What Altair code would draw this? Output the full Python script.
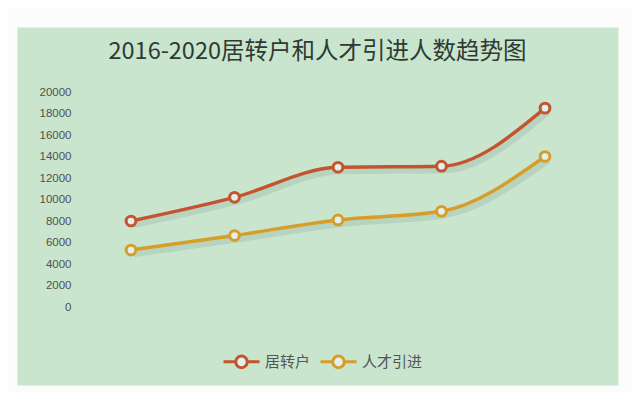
import altair as alt
import pandas as pd

years = ["2016", "2017", "2018", "2019", "2020"]
series_names = ["居转户", "人才引进"]
hukou = [8000, 10200, 13000, 13100, 18500]
talent = [5300, 6650, 8100, 8900, 14000]
y_ticks = [0, 2000, 4000, 6000, 8000, 10000, 12000, 14000, 16000, 18000, 20000]
title_text = "2016-2020居转户和人才引进人数趋势图"

colors = ["#c4542f", "#d69e28"]

rows = []
for name, vals in zip(series_names, [hukou, talent]):
    for yr, v in zip(years, vals):
        rows.append({"year": yr, "series": name, "value": v})
df = pd.DataFrame(rows)

W, H = 601, 358
x_main = alt.Scale(type="point", domain=years, range=[114, 528], padding=0)
y_main = alt.Scale(domain=[0, 20000], range=[280, 65], nice=False, zero=False)
x_sh = alt.Scale(type="point", domain=years, range=[117, 531], padding=0)
y_sh = alt.Scale(domain=[0, 20000], range=[284, 69], nice=False, zero=False)

stroke_scale = alt.Scale(domain=series_names, range=colors)
legend_path = "M-1,0L-0.32,0M0.32,0L1,0M-0.32,0A0.32,0.32,0,1,1,0.32,0A0.32,0.32,0,1,1,-0.32,0Z"

base = alt.Chart(df)

shadow = base.mark_line(interpolate="monotone", strokeWidth=6, opacity=0.16, color="#5f7f78").encode(
    x=alt.X("year:O", scale=x_sh, axis=None),
    y=alt.Y("value:Q", scale=y_sh, axis=None),
    detail="series:N",
)

lines = base.mark_line(interpolate="monotone", strokeWidth=3.5).encode(
    x=alt.X("year:O", scale=x_main, axis=None),
    y=alt.Y(
        "value:Q",
        scale=y_main,
        axis=alt.Axis(
            values=y_ticks,
            format="d",
            orient="left",
            offset=-56,
            labelPadding=2,
            ticks=False,
            domain=False,
            grid=False,
            title=None,
            labelFont="Liberation Sans",
            labelFontSize=11.5,
            labelColor="#4f524f",
        ),
    ),
    stroke=alt.Stroke(
        "series:N",
        scale=stroke_scale,
        legend=alt.Legend(
            title=None,
            orient="none",
            legendX=205,
            legendY=315,
            direction="horizontal",
            symbolType=legend_path,
            symbolSize=1296,
            symbolStrokeWidth=3,
            symbolFillColor="#e2efec",
            labelFont="Noto Sans CJK SC",
            labelFontSize=15,
            labelColor="#555555",
            labelOffset=4,
            columnPadding=3,
        ),
    ),
)

points = base.mark_point(filled=True, size=95, strokeWidth=3, fill="#e2efec", opacity=1).encode(
    x=alt.X("year:O", scale=x_main, axis=None),
    y=alt.Y("value:Q", scale=y_main, axis=None),
    stroke=alt.Stroke("series:N", scale=stroke_scale),
)

chart = (
    alt.layer(shadow, lines, points)
    .resolve_scale(x="independent", y="independent")
    .properties(
        width=W,
        height=H,
        title=alt.TitleParams(
            title_text,
            font="Noto Sans CJK SC",
            fontSize=23.5,
            fontWeight="normal",
            color="#2f3a32",
            anchor="middle",
            baseline="alphabetic",
            offset=-55,
        ),
        autosize=alt.AutoSizeParams(type="none"),
        padding={"left": 9, "top": 19, "right": 14, "bottom": 8},
        background="#fdfcfd",
    )
    .configure_view(fill="#c9e5ce", stroke="transparent")
)

chart.save("out.html", embed_options={"renderer": "svg", "actions": False})
